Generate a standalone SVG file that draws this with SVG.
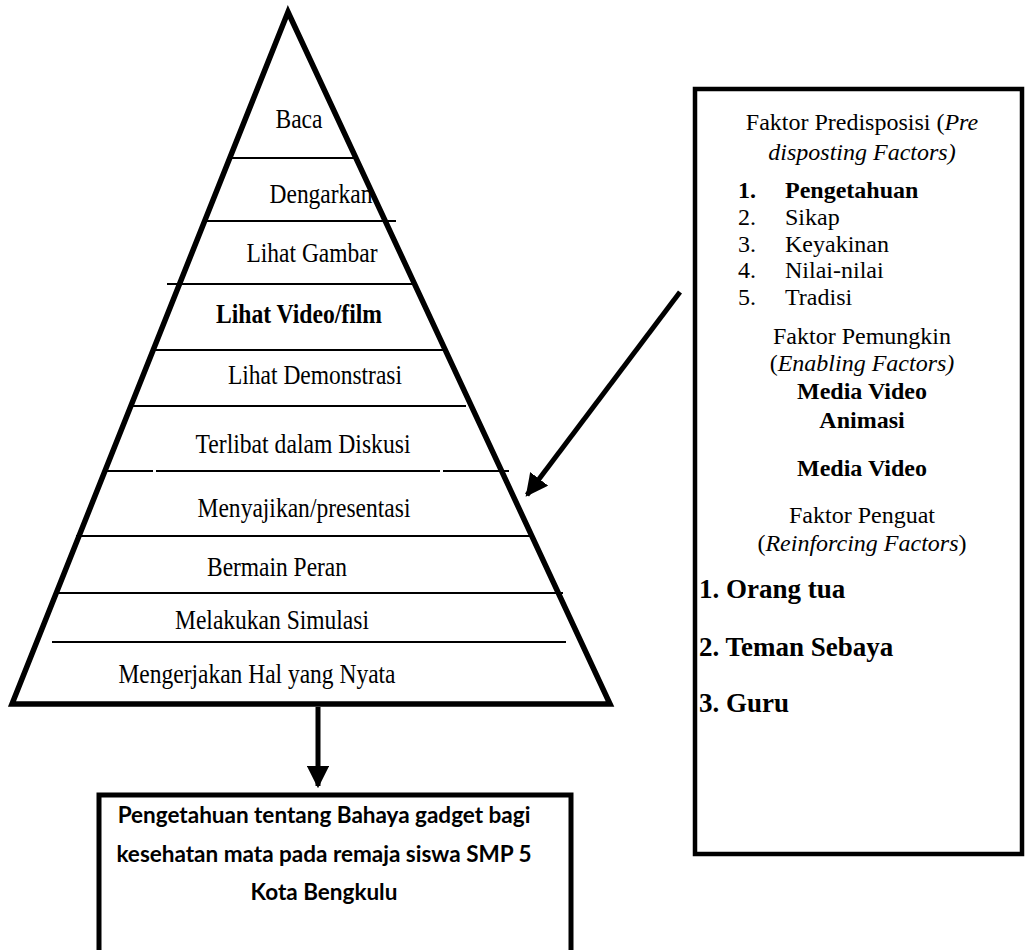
<svg xmlns="http://www.w3.org/2000/svg" width="1029" height="950" viewBox="0 0 1029 950">
<defs>
<style>
.t{font-family:"Liberation Serif","Times New Roman",serif;font-size:24px;fill:#000}
.p{font-family:"Liberation Serif","Times New Roman",serif;font-size:26.5px;fill:#000;text-anchor:middle}
.b{font-weight:bold}
.i{font-style:italic}
.c{text-anchor:middle}
.big{font-size:27px}
.thin{stroke:#000;stroke-width:1.8;fill:none}
.bx{font-family:Lato,"Open Sans",sans-serif;font-size:22.5px;font-weight:bold;fill:#000;text-anchor:middle}
</style>
<marker id="ah" viewBox="0 0 10 10" refX="9" refY="5" markerWidth="4.5" markerHeight="4.5" orient="auto" markerUnits="strokeWidth">
<path d="M0,0 L10,5 L0,10 z" fill="#000"/>
</marker>
</defs>
<rect width="1029" height="950" fill="#fff"/>

<g id="pyramid">
<polygon points="288,12 12,704 610,704" fill="none" stroke="#000" stroke-width="5.5" stroke-linejoin="miter"/>
<line class="thin" x1="229" y1="158" x2="358" y2="158"/>
<line class="thin" x1="202" y1="221" x2="396" y2="221"/>
<line class="thin" x1="167" y1="284" x2="415" y2="284"/>
<line class="thin" x1="154" y1="350" x2="447" y2="350"/>
<line class="thin" x1="131" y1="406" x2="466" y2="406"/>
<line class="thin" x1="106" y1="471" x2="153" y2="471"/>
<line class="thin" x1="156" y1="471" x2="440" y2="471"/>
<line class="thin" x1="443" y1="471" x2="509" y2="471"/>
<line class="thin" x1="76" y1="536" x2="533" y2="536"/>
<line class="thin" x1="56" y1="593" x2="563" y2="593"/>
<line class="thin" x1="52" y1="642" x2="566" y2="642"/>
<text class="p" x="299" y="128" textLength="47" lengthAdjust="spacingAndGlyphs">Baca</text>
<text class="p" x="321" y="203" textLength="103" lengthAdjust="spacingAndGlyphs">Dengarkan</text>
<text class="p" x="312" y="262" textLength="131" lengthAdjust="spacingAndGlyphs">Lihat Gambar</text>
<text class="p b" x="299" y="323" textLength="166" lengthAdjust="spacingAndGlyphs">Lihat Video/film</text>
<text class="p" x="315" y="384" textLength="174" lengthAdjust="spacingAndGlyphs">Lihat Demonstrasi</text>
<text class="p" x="303" y="453" textLength="215" lengthAdjust="spacingAndGlyphs">Terlibat dalam Diskusi</text>
<text class="p" x="304" y="517" textLength="213" lengthAdjust="spacingAndGlyphs">Menyajikan/presentasi</text>
<text class="p" x="277" y="576" textLength="140" lengthAdjust="spacingAndGlyphs">Bermain Peran</text>
<text class="p" x="272" y="629" textLength="194" lengthAdjust="spacingAndGlyphs">Melakukan Simulasi</text>
<text class="p" x="257" y="683" textLength="277" lengthAdjust="spacingAndGlyphs">Mengerjakan Hal yang Nyata</text>
</g>

<g id="factors">
<rect x="695" y="89" width="327" height="765" fill="none" stroke="#000" stroke-width="4.5"/>
<text class="t c" x="862" y="130">Faktor Predisposisi (<tspan class="i">Pre</tspan></text>
<text class="t c i" x="862" y="160">disposting Factors)</text>
<text class="t b" x="738" y="198">1.</text><text class="t b" x="785" y="198">Pengetahuan</text>
<text class="t" x="738" y="225">2.</text><text class="t" x="785" y="225">Sikap</text>
<text class="t" x="738" y="252">3.</text><text class="t" x="785" y="252">Keyakinan</text>
<text class="t" x="738" y="278">4.</text><text class="t" x="785" y="278">Nilai-nilai</text>
<text class="t" x="738" y="305">5.</text><text class="t" x="785" y="305">Tradisi</text>
<text class="t c" x="862" y="344">Faktor Pemungkin</text>
<text class="t c" x="862" y="371">(<tspan class="i">Enabling Factors)</tspan></text>
<text class="t c b" x="862" y="399">Media Video</text>
<text class="t c b" x="862" y="428">Animasi</text>
<text class="t c b" x="862" y="476">Media Video</text>
<text class="t c" x="862" y="523">Faktor Penguat</text>
<text class="t c" x="862" y="551">(<tspan class="i">Reinforcing Factors</tspan>)</text>
<text class="t b big" x="699" y="598">1. Orang tua</text>
<text class="t b big" x="699" y="656">2. Teman Sebaya</text>
<text class="t b big" x="699" y="712">3. Guru</text>
</g>

<g id="outcome">
<rect x="99" y="795" width="472" height="160" fill="none" stroke="#000" stroke-width="5"/>
<text class="bx" x="324" y="823">Pengetahuan tentang Bahaya gadget bagi</text>
<text class="bx" x="324" y="862">kesehatan mata pada remaja siswa SMP 5</text>
<text class="bx" x="324" y="900">Kota Bengkulu</text>
</g>

<g id="connectors">
<line x1="318" y1="707" x2="318" y2="786" stroke="#000" stroke-width="5" marker-end="url(#ah)"/>
<line x1="680" y1="292" x2="527" y2="495" stroke="#000" stroke-width="5" marker-end="url(#ah)"/>
</g>
</svg>
